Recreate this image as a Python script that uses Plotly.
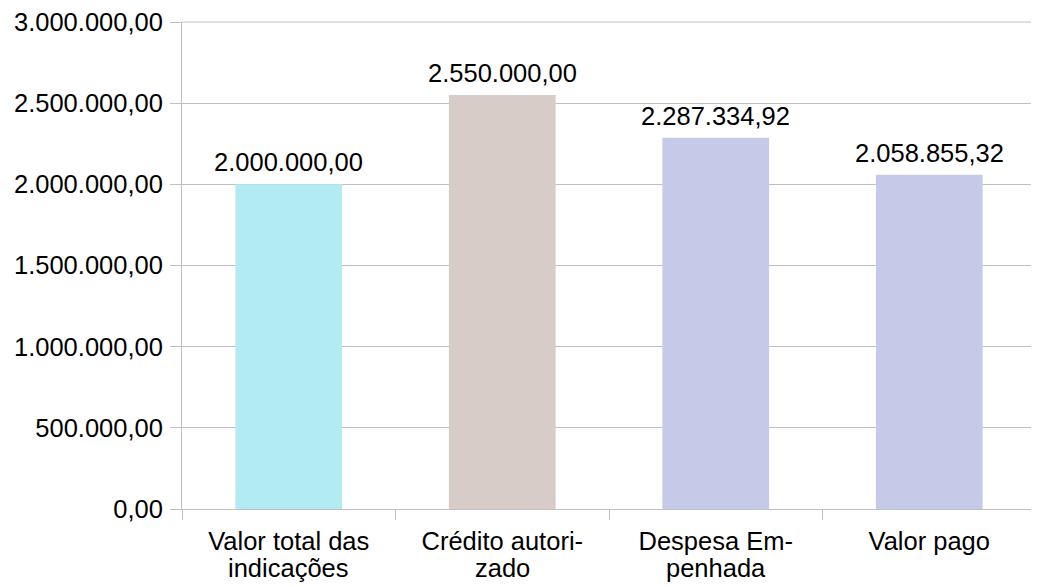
import plotly.graph_objects as go

categories = ["Valor total das indicações", "Crédito autorizado", "Despesa Empenhada", "Valor pago"]
line1 = ["Valor total das", "Crédito autori-", "Despesa Em-", "Valor pago"]
line2 = ["indicações", "zado", "penhada", ""]
values = [2000000.00, 2550000.00, 2287334.92, 2058855.32]
colors = ["#b2ebf2", "#d7ccc8", "#c5cae9", "#c5cae9"]
tick_vals = [0, 500000, 1000000, 1500000, 2000000, 2500000, 3000000]
tick_text = ["0,00", "500.000,00", "1.000.000,00", "1.500.000,00", "2.000.000,00", "2.500.000,00", "3.000.000,00"]


def fmt(v):
    s = f"{v:,.2f}"
    return s.replace(",", "X").replace(".", ",").replace("X", ".")


labels = [fmt(v) for v in values]
font = dict(family="Liberation Sans, Arial, sans-serif", size=25.5, color="#000000")
grid = "#c0c0c0"

fig = go.Figure(go.Bar(
    x=categories, y=values, marker=dict(color=colors, line=dict(width=0)),
    width=0.5, hoverinfo="skip",
))
for c, v, lab in zip(categories, values, labels):
    fig.add_annotation(x=c, y=v, xref="x", yref="y", text=lab,
                       showarrow=False, yanchor="bottom", yshift=6,
                       font=font)
for c, t in zip(categories, line2):
    if t:
        fig.add_annotation(x=c, y=0, xref="x", yref="paper", text=t,
                           showarrow=False, yanchor="top", yshift=-43,
                           font=font)
# top border of the plot area
fig.add_shape(type="line", xref="paper", yref="paper", x0=0, x1=1, y0=1, y1=1,
              line=dict(color=grid, width=1), layer="below")
# page body has an 8px margin, so the figure is sized to fit the window
fig.update_layout(
    width=1031, height=579, autosize=False,
    margin=dict(l=174, r=3, t=14, b=78),
    plot_bgcolor="white", paper_bgcolor="white",
    font=font, showlegend=False, bargap=0.5,
)
fig.update_yaxes(
    range=[0, 3000000], tickvals=tick_vals, ticktext=tick_text,
    showgrid=True, gridcolor=grid, gridwidth=1,
    showline=True, linecolor=grid, linewidth=1, mirror=True,
    ticks="outside", ticklen=11, tickcolor=grid, zeroline=False,
    tickfont=font, automargin=False, ticklabelstandoff=2,
    ticklabeloverflow="allow",
)
fig.update_xaxes(
    tickmode="array", tickvals=categories, ticktext=line1,
    showline=True, linecolor=grid, linewidth=1,
    ticks="outside", ticklen=10, tickcolor=grid, tickson="boundaries",
    showgrid=False, tickfont=font, automargin=False, ticklabelstandoff=9,
)
fig.write_html("out.html")
